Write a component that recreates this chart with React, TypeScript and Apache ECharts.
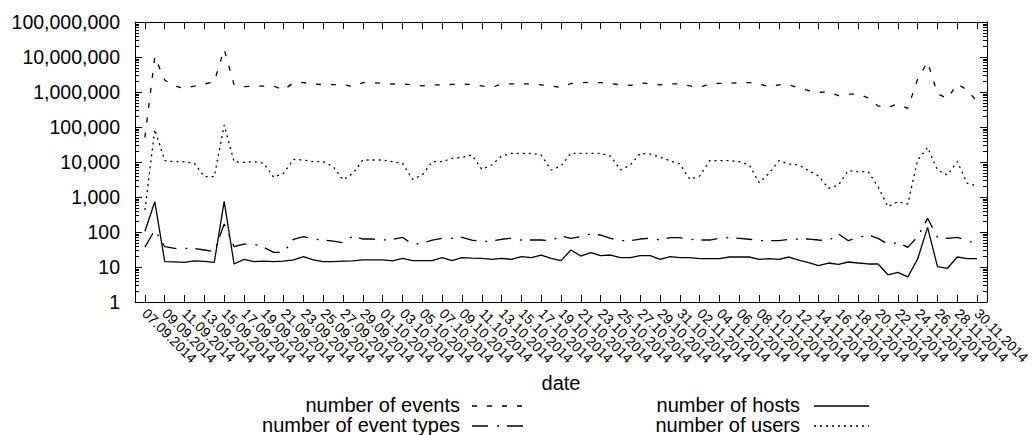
import React, { useEffect, useRef } from "react";
import * as echarts from "echarts";

const axisStart = "06.09.2014";
const axisEnd = "01.12.2014";
const dates = [
  "07.09.2014", "08.09.2014", "09.09.2014", "10.09.2014", "11.09.2014", "12.09.2014", "13.09.2014", "14.09.2014",
  "15.09.2014", "16.09.2014", "17.09.2014", "18.09.2014", "19.09.2014", "20.09.2014", "21.09.2014", "22.09.2014",
  "23.09.2014", "24.09.2014", "25.09.2014", "26.09.2014", "27.09.2014", "28.09.2014", "29.09.2014", "30.09.2014",
  "01.10.2014", "02.10.2014", "03.10.2014", "04.10.2014", "05.10.2014", "06.10.2014", "07.10.2014", "08.10.2014",
  "09.10.2014", "10.10.2014", "11.10.2014", "12.10.2014", "13.10.2014", "14.10.2014", "15.10.2014", "16.10.2014",
  "17.10.2014", "18.10.2014", "19.10.2014", "20.10.2014", "21.10.2014", "22.10.2014", "23.10.2014", "24.10.2014",
  "25.10.2014", "26.10.2014", "27.10.2014", "28.10.2014", "29.10.2014", "30.10.2014", "31.10.2014",
  "01.11.2014", "02.11.2014", "03.11.2014", "04.11.2014", "05.11.2014", "06.11.2014", "07.11.2014", "08.11.2014",
  "09.11.2014", "10.11.2014", "11.11.2014", "12.11.2014", "13.11.2014", "14.11.2014", "15.11.2014", "16.11.2014",
  "17.11.2014", "18.11.2014", "19.11.2014", "20.11.2014", "21.11.2014", "22.11.2014", "23.11.2014", "24.11.2014",
  "25.11.2014", "26.11.2014", "27.11.2014", "28.11.2014", "29.11.2014", "30.11.2014",
];

const events = [
  50000, 10200000, 2200000, 1480000, 1270000, 1480000, 1690000, 1970000, 16600000, 1620000, 1420000, 1480000, 1480000,
  1480000, 1140000, 1850000, 1850000, 1690000, 1620000, 1620000, 1620000, 1420000, 1850000, 1850000, 1770000, 1690000,
  1690000, 1600000, 1500000, 1600000, 1600000, 1650000, 1650000, 1650000, 1500000, 1350000, 1700000, 1700000, 1700000,
  1700000, 1600000, 1500000, 1350000, 1750000, 1850000, 1900000, 1850000, 1750000, 1600000, 1550000, 1800000, 1750000,
  1600000, 1700000, 1700000,
  1500000, 1360000, 1700000, 1770000, 1770000, 1850000, 1850000, 1700000, 1400000, 1600000, 1600000, 1300000, 1100000,
  980000, 1000000, 790000, 870000, 877000, 680000, 400000, 365000, 454000, 340000, 2350000, 7200000, 900000, 650000,
  1700000, 1140000, 530000,
];

const eventTypes = [
  37, 114, 38, 34, 34, 34, 30.6, 27.4, 169, 38, 45, 45, 36.5, 26.2, 26.2, 62, 73.6, 63, 59, 55, 49.6, 77, 63, 63, 59, 62,
  70.4, 45, 47.5, 59, 66, 66, 70.4, 59, 53, 55, 62, 66, 59, 59, 59, 56.5, 77, 66, 73.6, 87.7, 82, 66, 56.5, 56.5, 63, 66,
  59, 69, 69,
  62, 59, 59, 66, 69, 66, 62, 56.5, 56.5, 56.5, 62, 63, 63, 59, 56.5, 87.7, 56.5, 70.4, 82, 66, 45, 49.6, 36.5, 73.6,
  246, 70.4, 66, 70.4, 56.5, 45,
];

const hosts = [
  105, 734, 14.2, 14, 13.5, 15, 14.5, 13.5, 750, 12.2, 16.6, 14.2, 14.8, 14.2, 14.8, 16, 19.7, 16, 14.2, 14.2, 14.8, 15,
  16, 16, 16, 15,
  17.7, 15.2, 15.2, 15.2, 18.5, 15.2, 18.5, 18, 17.7, 16.5, 17.7, 16.5, 19.7, 18.5, 22, 17.7, 15.2, 30.6, 20.6, 25.7,
  21.1, 22, 18.5, 18.5, 21.1, 21.1, 16.5, 19.7, 18.5,
  18.5, 17.3, 17.3, 17.3, 19.3, 19.3, 19.3, 16.5, 17.3, 16.5, 19.3, 15.8, 13.3, 10.9, 13, 11.9, 13.9, 13, 12.2, 12.2,
  6.0, 7.0, 5.2, 17, 136, 10.2, 9.2, 19.3, 17.3, 17.3,
];

const users = [
  425, 86000, 10900, 10200, 10200, 9160, 3810, 3810, 114000, 10200, 9800, 10200, 9160, 3650, 4750, 11900, 11400, 10200,
  10200, 7360, 3060, 4750, 11400, 11400, 11400, 10200,
  9160, 3200, 4250, 10200, 10200, 12700, 13600, 15850, 6170, 8210, 14800, 17700, 17700, 17700, 15850, 5900, 7690, 17700,
  17700, 17700, 17700, 14800, 5900, 8210, 17700, 16900, 13600, 10900, 8770,
  3200, 3980, 10900, 10900, 10900, 10200, 8210, 2570, 4750, 10900, 8770, 8210, 5650, 3980, 1770, 2200, 5650, 5290, 5290,
  1970, 530, 735, 630, 11400, 26200, 5900, 4250, 10200, 2460, 2060,
];

const yMin = 1;
const yMax = 100000000;
const decades = [1, 10, 100, 1000, 10000, 100000, 1000000, 10000000];
const minorMultipliers = [2, 3, 4, 5, 6, 7, 8, 9];

const seriesNames = ["number of events", "number of event types", "number of hosts", "number of users"];

const FONT = "'Liberation Sans', Arial, Helvetica, sans-serif";

export default function App() {
  const ref = useRef<HTMLDivElement>(null);

  useEffect(() => {
    if (!ref.current) return;
    const chart = echarts.init(ref.current, undefined, { renderer: "svg" });
    const categories = [axisStart, ...dates, axisEnd];
    const showOdd = (index: number) => index % 2 === 1;
    const pairs = (vals: number[]) => dates.map((d, i) => [d, vals[i]]);

    const lineSeries = (name: string, vals: number[], type: any, width = 1.3) => ({
      name,
      type: "line",
      data: pairs(vals),
      symbol: "none",
      xAxisIndex: 0,
      yAxisIndex: 0,
      lineStyle: { color: "#000", width, type },
      silent: true,
    });

    const legendRows = [
      { name: seriesNames[0], x: 460, lx: 472, y: 405, dash: [5, 10] },
      { name: seriesNames[1], x: 460, lx: 472, y: 425, dash: [16, 9, 2, 8] },
      { name: seriesNames[2], x: 800, lx: 814, y: 405, dash: null },
      { name: seriesNames[3], x: 800, lx: 814, y: 425, dash: [2, 4] },
    ];
    const graphic: any[] = [];
    legendRows.forEach((r) => {
      graphic.push({
        type: "text",
        x: r.x,
        y: r.y,
        style: {
          text: r.name,
          fill: "#000",
          font: `20px ${FONT}`,
          textAlign: "right",
          align: "right",
          textVerticalAlign: "middle",
          verticalAlign: "middle",
        },
      });
      graphic.push({
        type: "line",
        shape: { x1: r.lx, y1: r.y + 1, x2: r.lx + 55, y2: r.y + 1 },
        style: { stroke: "#000", lineWidth: 1.3, lineDash: r.dash || undefined },
      });
    });

    const option: any = {
      animation: false,
      backgroundColor: "#fff",
      textStyle: { fontFamily: FONT, color: "#000" },
      grid: { left: 135, top: 22, width: 857, height: 280, containLabel: false },
      xAxis: [
        {
          type: "category",
          data: categories,
          boundaryGap: false,
          position: "bottom",
          name: "date",
          nameLocation: "middle",
          nameGap: 66,
          nameTextStyle: { fontSize: 20, color: "#000", fontFamily: FONT },
          axisLine: { show: true, lineStyle: { color: "#000", width: 1 } },
          axisTick: { show: true, inside: true, length: 7, interval: showOdd, lineStyle: { color: "#000", width: 1 } },
          axisLabel: {
            interval: showOdd,
            rotate: -45,
            margin: 9,
            fontSize: 14,
            color: "#000",
            fontFamily: FONT,
          },
          splitLine: { show: false },
        },
        {
          type: "category",
          data: categories,
          boundaryGap: false,
          position: "top",
          axisLine: { show: true, lineStyle: { color: "#000", width: 1 } },
          axisTick: { show: true, inside: true, length: 7, interval: showOdd, lineStyle: { color: "#000", width: 1 } },
          axisLabel: { show: false },
          splitLine: { show: false },
        },
      ],
      yAxis: [
        {
          type: "log",
          logBase: 10,
          min: yMin,
          max: yMax,
          splitNumber: 8,
          position: "left",
          axisLine: { show: true, lineStyle: { color: "#000", width: 1 } },
          axisTick: { show: true, inside: true, length: 7, lineStyle: { color: "#000", width: 1 } },
          axisLabel: {
            fontSize: 19.5,
            color: "#000",
            margin: 15,
            fontFamily: FONT,
            formatter: (v: number) => Math.round(v).toLocaleString("en-US"),
          },
          splitLine: { show: false },
        },
        {
          type: "log",
          logBase: 10,
          min: yMin,
          max: yMax,
          splitNumber: 8,
          position: "right",
          axisLine: { show: true, lineStyle: { color: "#000", width: 1 } },
          axisTick: { show: true, inside: true, length: 7, lineStyle: { color: "#000", width: 1 } },
          axisLabel: { show: false },
          splitLine: { show: false },
        },
      ],
      series: [
        lineSeries(seriesNames[0], events, [5, 10]),
        lineSeries(seriesNames[1], eventTypes, [16, 9, 2, 8]),
        lineSeries(seriesNames[2], hosts, "solid"),
        lineSeries(seriesNames[3], users, [2, 4]),
        {
          type: "custom",
          name: "minor ticks",
          xAxisIndex: 0,
          yAxisIndex: 0,
          silent: true,
          clip: false,
          data: decades.map((d) => [0, d]),
          renderItem: (params: any, api: any) => {
            const dec = api.value(1);
            const cs = params.coordSys;
            const children: any[] = [];
            minorMultipliers.forEach((m) => {
              const y = Math.round(api.coord([0, dec * m])[1]) + 0.5;
              children.push({
                type: "line",
                shape: { x1: cs.x, y1: y, x2: cs.x + 4, y2: y },
                style: { stroke: "#000", lineWidth: 1 },
              });
              children.push({
                type: "line",
                shape: { x1: cs.x + cs.width - 4, y1: y, x2: cs.x + cs.width, y2: y },
                style: { stroke: "#000", lineWidth: 1 },
              });
            });
            return { type: "group", children };
          },
        },
      ],
      graphic,
    };

    chart.setOption(option);
    return () => chart.dispose();
  }, []);

  return (
    <div
      ref={ref}
      style={{ position: "absolute", left: 0, top: 0, width: 1033, height: 435, background: "#fff" }}
    />
  );
}
